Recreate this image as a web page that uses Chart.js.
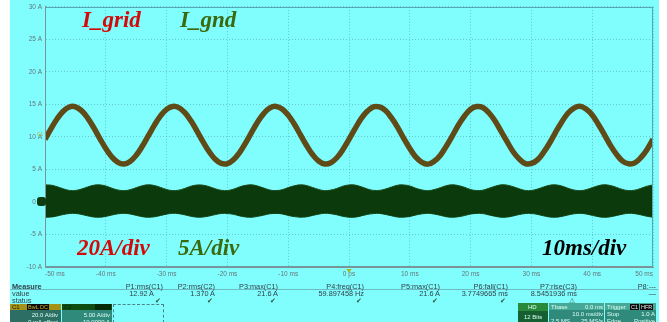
<!DOCTYPE html>
<html>
<head>
<meta charset="utf-8">
<script src="https://cdn.jsdelivr.net/npm/chart.js@4.4.1/dist/chart.umd.min.js"></script>
<style>
  html, body { margin: 0; padding: 0; background: #fff; }
  #wrap { position: relative; width: 667px; height: 322px; overflow: hidden; font-family: "Liberation Sans", Arial, sans-serif; }
  #screen { position: absolute; left: 10px; top: 0; width: 649px; height: 322px; background: #80fdfd; }
  #cv { position: absolute; left: 0; top: 0; }
  .lbl { position: absolute; font-family: "Liberation Serif", "Times New Roman", serif; font-style: italic; font-weight: bold; font-size: 23px; line-height: 23px; white-space: nowrap; }
  .m { position: absolute; font-size: 7.3px; line-height: 7px; color: #31434a; white-space: nowrap; }
  .box { position: absolute; overflow: hidden; }
  .bt { position: absolute; font-size: 6px; line-height: 6px; color: #dcfff4; white-space: nowrap; }
  .tag { position: absolute; background: #0c0c0c; font-size: 5.5px; line-height: 6px; padding: 0 1px; white-space: nowrap; }
</style>
</head>
<body>
<div id="wrap">
  <div id="screen"></div>
  <canvas id="cv" width="667" height="322"></canvas>
  <div id="overlay"></div>
</div>
<script>
/* scope capture: I_grid (C1) + I_gnd (C2), 10 ms/div */

// sample times (ms)
const T_MS = [-50,-49,-48,-47,-46,-45,-44,-43,-42,-41,-40,-39,-38,-37,-36,-35,-34,-33,-32,-31,
  -30,-29,-28,-27,-26,-25,-24,-23,-22,-21,-20,-19,-18,-17,-16,-15,-14,-13,-12,-11,
  -10,-9,-8,-7,-6,-5,-4,-3,-2,-1,0,1,2,3,4,5,6,7,8,9,10,11,12,13,14,15,16,17,18,19,
  20,21,22,23,24,25,26,27,28,29,30,31,32,33,34,35,36,37,38,39,40,41,42,43,44,45,46,47,48,49,50];

// I_grid trace centre (A, on the 5 A/div screen scale)
const I_GRID = [9.63,11.29,12.80,13.96,14.61,14.64,14.05,12.94,11.45,9.80,
  8.21,6.91,6.08,5.84,6.23,7.18,8.56,10.19,11.82,13.24,
  14.24,14.69,14.51,13.74,12.48,10.91,9.25,7.74,6.58,5.93,
  5.90,6.49,7.60,9.09,10.74,12.33,13.63,14.46,14.70,14.31,
  13.36,11.98,10.35,8.72,7.30,6.30,5.85,6.03,6.80,8.06,
  9.63,11.27,12.82,13.94,14.63,14.62,14.07,12.92,11.47,9.78,
  8.23,6.89,6.10,5.82,6.25,7.16,8.58,10.17,11.84,13.22,
  14.26,14.67,14.53,13.72,12.50,10.89,9.27,7.72,6.60,5.91,
  5.92,6.47,7.62,9.07,10.76,12.31,13.65,14.44,14.72,14.29,
  13.38,11.96,10.37,8.70,7.32,6.28,5.87,6.01,6.82,8.04,9.65];

// I_gnd band: upper and lower envelope (A)
const I_GND_TOP = [2.62,2.59,2.35,2.02,1.78,1.77,1.98,2.31,2.57,2.63,2.45,2.12,1.84,1.74,1.89,2.20,2.50,2.64,2.53,2.24,1.92,1.75,1.82,2.09,2.42,
  2.61,2.58,2.36,2.03,1.79,1.76,1.97,2.32,2.56,2.64,2.44,2.13,1.83,1.75,1.88,2.21,2.49,2.63,2.54,2.23,1.93,1.74,1.83,2.08,2.43,
  2.62,2.60,2.34,2.01,1.78,1.78,1.99,2.30,2.58,2.62,2.46,2.11,1.85,1.73,1.90,2.19,2.51,2.64,2.52,2.25,1.91,1.76,1.81,2.10,2.41,
  2.63,2.59,2.35,2.02,1.77,1.77,1.98,2.31,2.57,2.63,2.45,2.12,1.84,1.74,1.89,2.20,2.50,2.65,2.53,2.24,1.92,1.75,1.82,2.09,2.42,2.62];
const I_GND_BOT = [-2.34,-2.32,-2.15,-1.93,-1.78,-1.77,-1.91,-2.13,-2.31,-2.34,-2.22,-2.01,-1.82,-1.75,-1.85,-2.06,-2.26,-2.35,-2.28,-2.08,-1.87,-1.75,-1.80,-1.98,-2.20,
  -2.33,-2.31,-2.16,-1.94,-1.77,-1.78,-1.90,-2.14,-2.30,-2.35,-2.21,-2.02,-1.81,-1.76,-1.84,-2.07,-2.25,-2.34,-2.29,-2.07,-1.88,-1.74,-1.81,-1.97,-2.21,
  -2.34,-2.33,-2.14,-1.92,-1.79,-1.76,-1.92,-2.12,-2.32,-2.33,-2.23,-2.00,-1.83,-1.74,-1.86,-2.05,-2.27,-2.35,-2.27,-2.09,-1.86,-1.76,-1.79,-1.99,-2.19,
  -2.35,-2.32,-2.15,-1.93,-1.78,-1.77,-1.91,-2.13,-2.31,-2.34,-2.22,-2.01,-1.82,-1.75,-1.85,-2.06,-2.26,-2.36,-2.28,-2.08,-1.87,-1.75,-1.80,-1.98,-2.20,-2.34];

const X_LABELS = ['-50 ms','-40 ms','-30 ms','-20 ms','-10 ms','0 ps','10 ms','20 ms','30 ms','40 ms','50 ms'];
const Y_LABELS = ['-10 A','-5 A','0 A','5 A','10 A','15 A','20 A','25 A','30 A'];

// measurement strip
const MEAS_NAMES  = ['P1:rms(C1)','P2:rms(C2)','P3:max(C1)','P4:freq(C1)','P5:max(C1)','P6:fall(C1)','P7:rise(C3)','P8:---'];
const MEAS_VALUES = ['12.92 A','1.370 A','21.6 A','59.897458 Hz','21.6 A','3.7749665 ms','8.5451936 ms','\u2014'];
const MEAS_STATUS = ['\u2714','\u2714','\u2714','\u2714','\u2714','\u2714','\u26A0',''];
const MEAS_RIGHT  = [163, 215, 278, 364, 440, 508, 577, 656];

function pts(arr) { return T_MS.map(function (t, i) { return { x: t, y: arr[i] }; }); }

/* frame + channel/trigger markers */
const scopeMarks = {
  id: 'scopeMarks',
  afterDraw: function (c) {
    const ctx = c.ctx, a = c.chartArea, xs = c.scales.x, ys = c.scales.y;
    ctx.save();
    ctx.strokeStyle = '#5aa6b0'; ctx.lineWidth = 1;
    ctx.strokeRect(Math.round(a.left) + 0.5, Math.round(a.top) + 0.5, Math.round(a.width) - 1, Math.round(a.height) - 1);
    ctx.strokeStyle = '#7d9398';
    ctx.beginPath();
    ctx.moveTo(Math.round(a.left) + 0.5, a.top); ctx.lineTo(Math.round(a.left) + 0.5, a.bottom);
    ctx.lineTo(a.right, Math.round(a.bottom) - 0.5); ctx.stroke();
    // C2 ground marker
    const y0 = ys.getPixelForValue(0);
    ctx.fillStyle = '#0c3c10';
    ctx.beginPath(); ctx.roundRect(a.left - 8, y0 - 5, 9, 9, 3); ctx.fill();
    // C1 marker
    const y10 = ys.getPixelForValue(10);
    ctx.fillStyle = '#b8b040'; ctx.font = '5px "Liberation Sans"'; ctx.textBaseline = 'middle';
    ctx.fillText('C1', a.left - 8, y10 - 2);
    // trigger marker
    const xt = xs.getPixelForValue(0);
    ctx.fillStyle = '#a8b818';
    ctx.beginPath(); ctx.moveTo(xt - 2.5, a.bottom + 2); ctx.lineTo(xt + 2.5, a.bottom + 2); ctx.lineTo(xt, a.bottom + 6); ctx.closePath(); ctx.fill();
    ctx.restore();
  }
};

const tickFont = { family: 'Liberation Sans', size: 6.5 };
const gridCol = 'rgba(74,160,176,0.55)';
new Chart(document.getElementById('cv'), {
  type: 'line',
  data: {
    datasets: [
      { label: 'I_gnd', data: pts(I_GND_TOP), borderColor: '#1a4a18', backgroundColor: '#0b3a0d', borderWidth: 1, fill: '+1', pointRadius: 0, tension: 0.4 },
      { label: 'I_gnd low', data: pts(I_GND_BOT), borderColor: '#1a4a18', borderWidth: 1, fill: false, pointRadius: 0, tension: 0.4 },
      { label: 'I_grid', data: pts(I_GRID), borderColor: '#5e4b17', borderWidth: 5.5, fill: false, pointRadius: 0, tension: 0.4 },
      { label: 'I_grid speckle', data: pts(I_GRID), borderColor: 'rgba(214,150,52,0.9)', borderWidth: 2.5, borderDash: [1, 2], fill: false, pointRadius: 0, tension: 0.4 }
    ]
  },
  options: {
    responsive: false, animation: false, events: [],
    layout: { padding: { left: 0, right: 14, top: 4, bottom: 0 } },
    plugins: { legend: { display: false }, tooltip: { enabled: false } },
    scales: {
      x: {
        type: 'linear', min: -50, max: 50,
        afterFit: function (s) { s.height = 55; },
        ticks: { stepSize: 10, align: 'inner', padding: 3, maxRotation: 0, autoSkip: false, color: '#66767c', font: tickFont,
          callback: function (v) { return X_LABELS[Math.round((v + 50) / 10)]; } },
        grid: { color: gridCol, lineWidth: 1, drawTicks: false },
        border: { display: true, color: '#7d9398', dash: [1, 2] }
      },
      y: {
        min: -10, max: 30,
        afterFit: function (s) { s.width = 45; },
        ticks: { stepSize: 5, padding: 3, color: '#66767c', font: tickFont,
          callback: function (v) { return Y_LABELS[Math.round((v + 10) / 5)]; } },
        grid: { color: gridCol, lineWidth: 1, drawTicks: false },
        border: { display: true, color: '#7d9398', dash: [1, 2] }
      }
    }
  },
  plugins: [scopeMarks]
});

/* ── overlay text (annotations, measure strip, status boxes) ── */
(function () {
  const ov = document.getElementById('overlay');
  function el(cls, css, text) {
    const d = document.createElement('div');
    d.className = cls; d.style.cssText = css;
    if (text != null) d.textContent = text;
    ov.appendChild(d); return d;
  }
  // annotations
  el('lbl', 'left:82px;top:8px;color:#d40a0a;', 'I_grid');
  el('lbl', 'left:180px;top:8px;color:#3b6a0e;', 'I_gnd');
  el('lbl', 'left:77px;top:236px;color:#d40a0a;', '20A/div');
  el('lbl', 'left:178px;top:236px;color:#3b6a0e;', '5A/div');
  el('lbl', 'left:542px;top:236px;color:#000;', '10ms/div');

  // measure table
  el('m', 'left:12px;top:283px;font-weight:bold;', 'Measure');
  el('m', 'left:12px;top:290px;', 'value');
  el('m', 'left:12px;top:297px;', 'status');
  el('box', 'left:10px;top:289px;width:648px;height:1px;background:#6cbcc2;');
  MEAS_NAMES.forEach(function (n, i) {
    const r = 667 - MEAS_RIGHT[i];
    el('m', 'right:' + r + 'px;top:283px;', n);
    el('m', 'right:' + (i === 0 ? r + 9 : r) + 'px;top:290px;', MEAS_VALUES[i]);
    if (MEAS_STATUS[i]) el('m', 'right:' + (r + 2) + 'px;top:297px;color:#2f5a34;', MEAS_STATUS[i]);
  });

  // C1 box
  el('box', 'left:10px;top:304px;width:51px;height:6px;background:#a39418;');
  el('bt', 'left:12px;top:304px;color:#1a1800;', 'C1');
  el('tag', 'left:27px;top:304px;color:#c8b428;', 'BwL');
  el('tag', 'left:39px;top:304px;color:#c8b428;', 'DC');
  el('box', 'left:10px;top:310px;width:51px;height:12px;background:#2d6e64;');
  el('bt', 'right:609px;top:312px;', '20.0 A/div');
  el('bt', 'right:609px;top:319px;', '0 mA offset');
  // C2 box
  el('box', 'left:62px;top:304px;width:50px;height:6px;background:#0d4d12;');
  el('bt', 'left:64px;top:304px;color:#062a08;', 'C2');
  el('box', 'left:95px;top:304px;width:16px;height:6px;background:#062a08;');
  el('box', 'left:62px;top:310px;width:50px;height:12px;background:#2f8a7c;');
  el('bt', 'right:557px;top:312px;', '5.00 A/div');
  el('bt', 'right:557px;top:319px;', '10.0000 A');
  el('box', 'left:113px;top:304px;width:49px;height:17px;border:1px dashed #4f8088;');

  // HD / Tbase / Trigger
  el('box', 'left:518px;top:303px;width:30px;height:8px;background:#2a8a3c;');
  el('bt', 'left:528px;top:304px;', 'HD');
  el('box', 'left:518px;top:311px;width:30px;height:11px;background:#155f30;');
  el('bt', 'left:524px;top:314px;', '12 Bits');
  el('box', 'left:549px;top:303px;width:55px;height:7px;background:#46a896;');
  el('box', 'left:549px;top:310px;width:55px;height:12px;background:#2f8a7c;');
  el('bt', 'left:551px;top:304px;', 'Tbase');
  el('bt', 'right:64px;top:304px;', '0.0 ms');
  el('bt', 'right:64px;top:311px;', '10.0 ms/div');
  el('bt', 'left:551px;top:318px;', '2.5 MS');
  el('bt', 'right:64px;top:318px;', '25 MS/s');
  el('box', 'left:605px;top:303px;width:51px;height:7px;background:#46a896;');
  el('box', 'left:605px;top:310px;width:51px;height:12px;background:#2f8a7c;');
  el('bt', 'left:607px;top:304px;', 'Trigger');
  el('tag', 'left:630px;top:303.5px;color:#e8e8e8;', 'C1');
  el('tag', 'left:640px;top:303.5px;color:#e8e8e8;', 'HFR');
  el('bt', 'left:607px;top:311px;', 'Stop');
  el('bt', 'right:12px;top:311px;', '1.0 A');
  el('bt', 'left:607px;top:318px;', 'Edge');
  el('bt', 'right:12px;top:318px;', 'Positive');
})();
</script>
</body>
</html>
